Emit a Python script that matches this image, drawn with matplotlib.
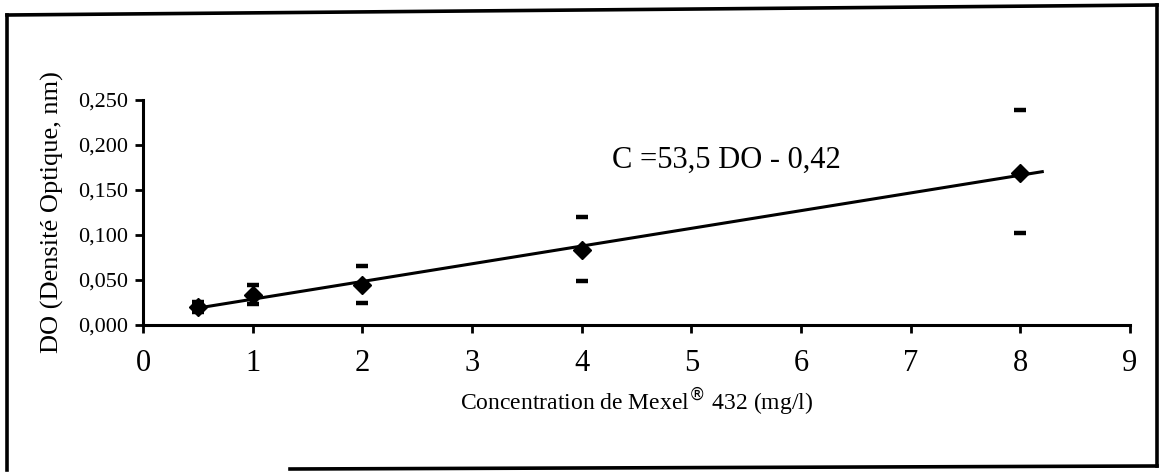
import matplotlib
matplotlib.use("Agg")
import matplotlib.pyplot as plt
import numpy as np
from matplotlib.lines import Line2D
from matplotlib.ticker import FuncFormatter

# Concentrations testées (mg/l) et densités optiques moyennes
conc = [0.5, 1, 2, 4, 8]
do_moy = [0.020, 0.033, 0.045, 0.083, 0.169]
do_haut = [0.026, 0.044, 0.066, 0.120, 0.239]
do_bas = [0.014, 0.023, 0.024, 0.049, 0.102]
equation = "C =53,5 DO - 0,42"

plt.rcParams["font.family"] = ["Liberation Serif", "DejaVu Serif"]

fig = plt.figure(figsize=(11.59, 4.76), dpi=100)
W, H = 1159, 476

# Cadre autour de la figure
for xs, ys in [
    ([7, 7], [15, 470]),
    ([7, 1157], [15, 5]),
    ([1157, 1157], [5, 466]),
    ([290, 1157], [469, 466]),
]:
    fig.add_artist(Line2D([x / W for x in xs], [1 - y / H for y in ys],
                          color="black", lw=2.6, transform=fig.transFigure))

ax = fig.add_axes([143 / W, 1 - 325 / H, (1130 - 143) / W, (325 - 100) / H])

yerr = [np.array(do_moy) - np.array(do_bas), np.array(do_haut) - np.array(do_moy)]
ax.errorbar(conc, do_moy, yerr=yerr, fmt="D", color="black", ms=9,
            elinewidth=0, capsize=4.5, capthick=3.2, zorder=3)

# Droite de régression sur les moyennes
a, b = np.polyfit(conc, do_moy, 1)
xr = np.array([0.5, 8.2])
ax.plot(xr, a * xr + b, color="black", lw=2.2)

ax.text(4.28, 0.183, equation, fontsize=22, va="center", ha="left")

ax.set_xlim(0, 9)
ax.set_ylim(0, 0.25)
ax.set_xticks(range(0, 10))
ax.set_yticks(np.arange(0, 0.251, 0.05))
ax.yaxis.set_major_formatter(FuncFormatter(lambda v, p: f"{v:.3f}".replace(".", ",")))

for s in ["top", "right"]:
    ax.spines[s].set_visible(False)
for s in ["left", "bottom"]:
    ax.spines[s].set_linewidth(2.2)
    ax.spines[s].set_clip_on(False)

ax.tick_params(axis="x", direction="out", length=6, width=2, labelsize=22, pad=11)
ax.tick_params(axis="y", direction="out", length=6, width=2, labelsize=16, pad=5)

ax.set_xlabel("Concentration de Mexel$^{\\circledR}$ 432 (mg/l)", fontsize=17, labelpad=6)
ax.set_ylabel("DO (Densité Optique, nm)", fontsize=19, labelpad=10)

fig.savefig("out.png", dpi=100)
